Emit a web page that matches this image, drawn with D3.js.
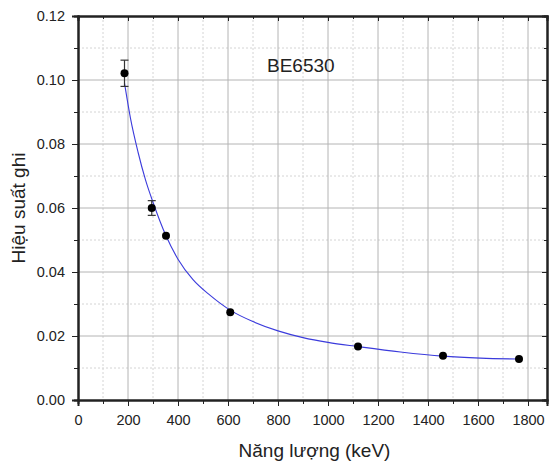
<!DOCTYPE html>
<html>
<meta charset="utf-8">
<head>
  <script src="https://d3js.org/d3.v7.min.js"></script>
  <style>
  body { margin: 0; background: #fff; }
  svg { font-family: Arial, "Liberation Sans", sans-serif; }
  .tick text { font-size: 14.5px; fill: #222; }
  .grid-major line { stroke: #b4b4b4; stroke-width: 1px; }
  .grid-minor line { stroke: #d4d4d4; stroke-width: 1px; stroke-dasharray: 2,2; }
  .axis path, .axis line { stroke: #222; }
  .axis path { stroke-width: 2px; }
  .fit { fill: none; stroke: #3b3bdc; stroke-width: 1.1px; }
  .err { stroke: #333; stroke-width: 1.2px; }
  </style>
</head>
<body>
<div id="chart"></div>
<script>

// measured points
var energy = [186, 295, 352, 609, 1120, 1460, 1764]
var eff    = [0.1021, 0.0600, 0.0513, 0.0274, 0.0167, 0.0138, 0.0128]
var effErr = [0.0041, 0.0023, 0.0008, 0.0004, 0.0003, 0.0003, 0.0003]

// fitted curve
var fitE = [186, 210, 240, 270, 300, 352, 400, 460, 530, 610, 700, 800, 900, 1000, 1120, 1290, 1460, 1610, 1764]
var fitV = [0.0990, 0.0880, 0.0775, 0.0688, 0.0618, 0.0513, 0.0440, 0.0376, 0.0326, 0.0280, 0.0245, 0.0216, 0.0195, 0.0180, 0.0167, 0.0150, 0.0137, 0.0131, 0.0128]

var xTicks = [0, 200, 400, 600, 800, 1000, 1200, 1400, 1600, 1800]
var yTicks = [0, 0.02, 0.04, 0.06, 0.08, 0.10, 0.12]

var margin = {top: 16, right: 3, bottom: 62, left: 78},
    width = 550 - margin.left - margin.right,
    height = 462 - margin.top - margin.bottom;

var x = d3.scaleLinear().domain([0, 1876]).range([0, width])
var y = d3.scaleLinear().domain([0, 0.12]).range([height, 0])

var svg = d3.select("#chart").append("svg")
    .attr("width", 550)
    .attr("height", 462)
  .append("g")
    .attr("transform", "translate(" + margin.left + "," + margin.top + ")")

var xMinor = d3.range(100, 1876, 200)
var yMinor = d3.range(0.01, 0.12, 0.02)

/* grid */
svg.append("g").attr("class", "grid-minor")
  .selectAll("line").data(xMinor).enter().append("line")
    .attr("x1", x).attr("x2", x).attr("y1", 0).attr("y2", height)
svg.append("g").attr("class", "grid-minor")
  .selectAll("line").data(yMinor).enter().append("line")
    .attr("y1", y).attr("y2", y).attr("x1", 0).attr("x2", width)
svg.append("g").attr("class", "grid-major")
  .selectAll("line").data(xTicks.slice(1)).enter().append("line")
    .attr("x1", x).attr("x2", x).attr("y1", 0).attr("y2", height)
svg.append("g").attr("class", "grid-major")
  .selectAll("line").data(yTicks.slice(1, -1)).enter().append("line")
    .attr("y1", y).attr("y2", y).attr("x1", 0).attr("x2", width)

/* axes: major + minor ticks */
function minorAxis(axis, vals, size) {
  return axis.tickValues(vals).tickSize(size).tickFormat("")
}

svg.append("g").attr("class", "axis").attr("transform", "translate(0," + height + ")")
  .call(minorAxis(d3.axisBottom(x), xMinor, 4))
svg.append("g").attr("class", "axis").attr("transform", "translate(0," + height + ")")
  .call(d3.axisBottom(x).tickValues(xTicks).tickSize(6).tickPadding(9).tickFormat(d3.format("d")))

svg.append("g").attr("class", "axis")
  .call(minorAxis(d3.axisLeft(y), yMinor, 4))
svg.append("g").attr("class", "axis")
  .call(d3.axisLeft(y).tickValues(yTicks).tickSize(6).tickPadding(7).tickFormat(d3.format(".2f")))

svg.append("g").attr("class", "axis")
  .call(minorAxis(d3.axisTop(x), xMinor, -3))
svg.append("g").attr("class", "axis")
  .call(minorAxis(d3.axisTop(x), xTicks, -5))
svg.append("g").attr("class", "axis").attr("transform", "translate(" + width + ",0)")
  .call(minorAxis(d3.axisRight(y), yMinor, -3))
svg.append("g").attr("class", "axis").attr("transform", "translate(" + width + ",0)")
  .call(minorAxis(d3.axisRight(y), yTicks, -5))

svg.selectAll(".axis .domain").attr("stroke-width", 2)

/* fit curve */
var line = d3.line()
  .x(function(d, i) { return x(fitE[i]) })
  .y(function(d) { return y(d) })
  .curve(d3.curveMonotoneX)

svg.append("path").datum(fitV).attr("class", "fit").attr("d", line)

/* error bars */
var pts = energy.map(function(e, i) { return {e: e, v: eff[i], s: effErr[i]} })

var eb = svg.append("g").selectAll("g").data(pts.filter(function(d) { return y(d.v - d.s) - y(d.v + d.s) > 8 }))
  .enter().append("g").attr("class", "err")
eb.append("line")
  .attr("x1", function(d) { return x(d.e) }).attr("x2", function(d) { return x(d.e) })
  .attr("y1", function(d) { return y(d.v - d.s) }).attr("y2", function(d) { return y(d.v + d.s) })
eb.append("line")
  .attr("x1", function(d) { return x(d.e) - 4 }).attr("x2", function(d) { return x(d.e) + 4 })
  .attr("y1", function(d) { return y(d.v + d.s) }).attr("y2", function(d) { return y(d.v + d.s) })
eb.append("line")
  .attr("x1", function(d) { return x(d.e) - 4 }).attr("x2", function(d) { return x(d.e) + 4 })
  .attr("y1", function(d) { return y(d.v - d.s) }).attr("y2", function(d) { return y(d.v - d.s) })

svg.append("g").selectAll("circle").data(pts).enter().append("circle")
  .attr("cx", function(d) { return x(d.e) })
  .attr("cy", function(d) { return y(d.v) })
  .attr("r", 4)
  .attr("fill", "#000")

/* labels */
svg.append("text")
  .attr("x", 189).attr("y", 56)
  .style("font-size", "19px").style("fill", "#222")
  .text("BE6530")

svg.append("text")
  .attr("x", width / 2 + 2).attr("y", height + 57)
  .attr("text-anchor", "middle")
  .style("font-size", "19px").style("fill", "#222")
  .text("Năng lượng (keV)")

svg.append("text")
  .attr("transform", "translate(-53," + height / 2 + ") rotate(-90)")
  .attr("text-anchor", "middle")
  .style("font-size", "19px").style("fill", "#222")
  .text("Hiệu suất ghi")

</script>
</body>
</html>
